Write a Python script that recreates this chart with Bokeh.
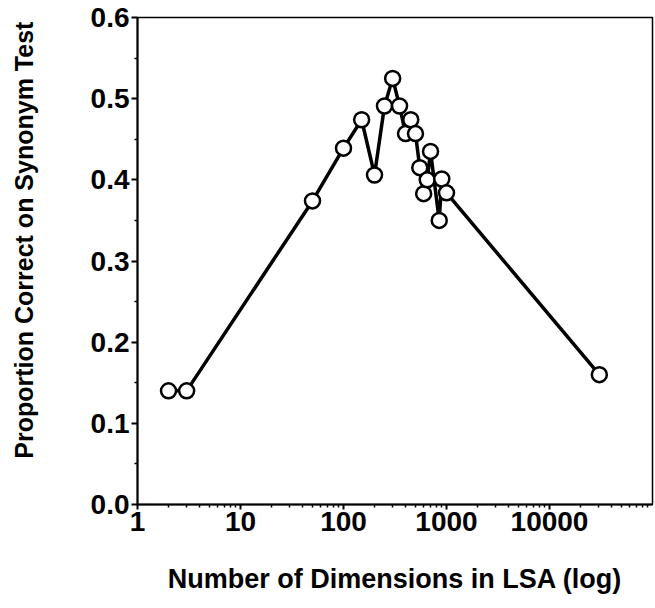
from bokeh.plotting import figure
from bokeh.models import FixedTicker, PrintfTickFormatter, Range1d
from bokeh.embed import file_html
from bokeh.resources import INLINE

# Data
dimensions = [2, 3, 50, 100, 150, 200, 250, 300, 350, 400, 450, 500, 550, 600,
              650, 700, 850, 900, 1000, 30473]
proportion = [0.140, 0.140, 0.374, 0.439, 0.474, 0.406, 0.491, 0.525, 0.491,
              0.457, 0.474, 0.457, 0.415, 0.383, 0.400, 0.435, 0.350, 0.401,
              0.384, 0.160]

x_major = [1, 10, 100, 1000, 10000]
x_minor = [m * d for d in [1, 10, 100, 1000, 10000] for m in range(2, 10)]
y_major = [0.0, 0.1, 0.2, 0.3, 0.4, 0.5, 0.6]
y_minor = [0.05, 0.15, 0.25, 0.35, 0.45, 0.55]

FONT = "Liberation Sans"

p = figure(width=654, height=600, x_axis_type="log",
           x_range=Range1d(1, 100000), y_range=Range1d(0, 0.6),
           output_backend="svg", toolbar_location=None,
           min_border_left=137, min_border_top=17, min_border_right=2,
           min_border_bottom=96)

p.xgrid.visible = False
p.ygrid.visible = False
p.outline_line_color = "black"
p.outline_line_width = 1.5

p.line(dimensions, proportion, line_color="black", line_width=3.5)
p.scatter(dimensions, proportion, size=15, fill_color="white",
          line_color="black", line_width=2.5)

xa = p.xaxis[0]
xa.ticker = FixedTicker(ticks=x_major, minor_ticks=x_minor)
xa.major_label_overrides = {1: "1", 10: "10", 100: "100", 1000: "1000", 10000: "10000"}
xa.axis_label = "Number of Dimensions in LSA (log)"

ya = p.yaxis[0]
ya.ticker = FixedTicker(ticks=y_major, minor_ticks=y_minor)
ya.formatter = PrintfTickFormatter(format="%.1f")
# leading no-break spaces nudge the centred rotated label upwards, as in the reference
ya.axis_label = "\u00a0" * 6 + "Proportion Correct on Synonym Test"

for ax in (xa, ya):
    ax.axis_line_color = "black"
    ax.axis_line_width = 2
    ax.major_tick_line_color = "black"
    ax.major_tick_line_width = 2
    ax.minor_tick_line_color = "black"
    ax.minor_tick_line_width = 1.5
    ax.major_tick_in = 0
    ax.minor_tick_in = 0
    ax.major_label_text_font = FONT
    ax.major_label_text_font_style = "bold"
    ax.major_label_text_font_size = "28px"
    ax.major_label_text_color = "black"
    ax.axis_label_text_font = FONT
    ax.axis_label_text_font_style = "bold"
    ax.axis_label_text_color = "black"

xa.axis_label_text_font_size = "27px"
ya.axis_label_text_font_size = "25px"

xa.major_tick_out = 5
xa.minor_tick_out = 3
xa.major_label_standoff = 2
xa.axis_label_standoff = 30

ya.major_tick_out = 6
ya.minor_tick_out = 3
ya.major_label_standoff = 2
ya.axis_label_standoff = 50

open("out.html", "w").write(file_html(p, INLINE))
